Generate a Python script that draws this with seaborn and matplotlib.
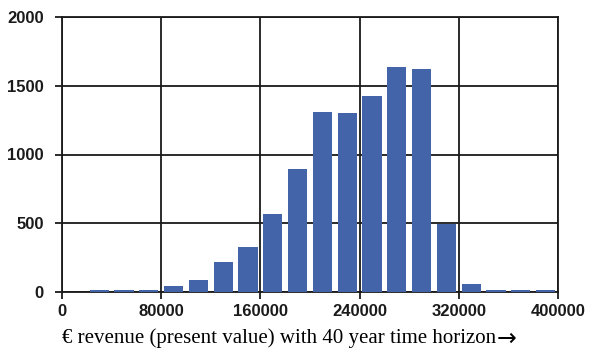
import matplotlib
matplotlib.use("Agg")
import matplotlib.pyplot as plt
import seaborn as sns
import numpy as np

# Data: histogram bins of width 20000 (left edges) and counts
bin_left = [0, 20000, 40000, 60000, 80000, 100000, 120000, 140000, 160000, 180000,
            200000, 220000, 240000, 260000, 280000, 300000, 320000, 340000, 360000, 380000]
counts = [0, 14, 14, 14, 46, 87, 218, 330, 570, 892,
          1312, 1300, 1423, 1634, 1622, 492, 58, 14, 14, 14]
x_ticks = [0, 80000, 160000, 240000, 320000, 400000]
y_ticks = [0, 500, 1000, 1500, 2000]
xlabel = "€ revenue (present value) with 40 year time horizon"

sns.set_theme(style="white")
plt.rcParams['font.family'] = ['Liberation Sans', 'DejaVu Sans']

fig = plt.figure(figsize=(5.92, 3.52), dpi=100)
ax = fig.add_axes([62/592, 1-292/352, (558-62)/592, (292-17)/352])

bin_width = 20000
edges = list(bin_left) + [bin_left[-1] + bin_width]
centers = [b + bin_width/2 for b in bin_left]
sns.histplot(x=centers, weights=counts, bins=edges, shrink=0.78,
             color="#4464aa", edgecolor="none", alpha=1, ax=ax, zorder=3)

ax.set_xlim(0, 400000)
ax.set_ylim(0, 2000)
ax.set_xticks(x_ticks)
ax.set_yticks(y_ticks)
ax.set_xticklabels([str(t) for t in x_ticks])
ax.set_yticklabels([str(t) for t in y_ticks])
ax.grid(True, color="#1a1a1a", linewidth=1.3, zorder=0)
ax.set_axisbelow(True)
for s in ax.spines.values():
    s.set_visible(True)
    s.set_color("#1a1a1a")
    s.set_linewidth(1.3)
ax.tick_params(axis='x', which='major', direction='out', length=5, width=1.3,
               color="#1a1a1a", labelsize=12, pad=4, bottom=True)
ax.tick_params(axis='y', which='major', direction='out', length=5, width=1.3,
               color="#1a1a1a", labelsize=12, pad=8, left=True)
for lab in ax.get_xticklabels() + ax.get_yticklabels():
    lab.set_fontweight('bold')
    lab.set_color('#1a1a1a')
ax.set_ylabel("")
ax.set_xlabel("")
fig.text(62/592, 1-338/352, xlabel, fontsize=15, family=['Liberation Serif', 'DejaVu Serif'],
         color='black', ha='left', va='center')
fig.text(497/592, 1-339/352, "→", fontsize=17, family=['DejaVu Sans'],
         color='black', ha='left', va='center')

fig.savefig("out.png", dpi=100)
